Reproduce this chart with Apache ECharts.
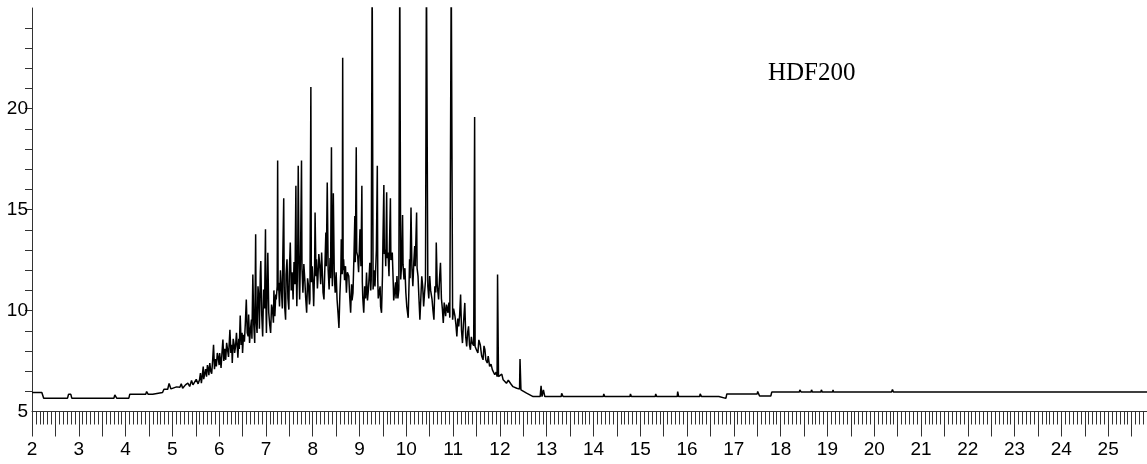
<!DOCTYPE html>
<html><head><meta charset="utf-8">
<script src="https://cdn.jsdelivr.net/npm/echarts@6/dist/echarts.min.js"></script>
<style>html,body{margin:0;padding:0;background:#fff}#chart{width:1147px;height:464px}</style>
</head><body><div id="chart"></div>
<script>
// retention time (min)
const retentionTime = [
2.00,2.21,2.25,2.76,2.78,2.83,2.85,3.75,3.77,3.81,
4.07,4.09,4.43,4.45,4.48,4.58,4.60,4.79,4.82,4.90,
4.93,4.97,5.09,5.16,5.19,5.22,5.28,5.33,5.37,5.41,
5.44,5.48,5.51,5.55,5.58,5.60,5.62,5.64,5.66,5.67,
5.69,5.71,5.73,5.75,5.77,5.78,5.80,5.82,5.84,5.86,
5.88,5.90,5.92,5.94,5.96,5.98,6.00,6.01,6.03,6.04,
6.06,6.08,6.10,6.12,6.14,6.16,6.18,6.20,6.23,6.25,
6.27,6.28,6.30,6.32,6.33,6.35,6.37,6.40,6.42,6.43,
6.45,6.47,6.49,6.50,6.52,6.54,6.56,6.58,6.60,6.62,
6.63,6.65,6.67,6.69,6.70,6.72,6.74,6.76,6.78,6.79,
6.81,6.83,6.85,6.86,6.88,6.89,6.91,6.93,6.95,6.97,
6.99,7.00,7.01,7.03,7.04,7.06,7.08,7.10,7.12,7.14,
7.16,7.17,7.19,7.21,7.22,7.24,7.25,7.26,7.27,7.29,
7.31,7.33,7.35,7.36,7.38,7.39,7.40,7.42,7.43,7.45,
7.47,7.49,7.50,7.52,7.54,7.56,7.58,7.60,7.62,7.64,
7.65,7.66,7.68,7.69,7.71,7.72,7.74,7.76,7.77,7.79,
7.81,7.83,7.85,7.87,7.89,7.91,7.93,7.94,7.96,7.97,
7.99,8.01,8.02,8.04,8.05,8.07,8.08,8.10,8.11,8.13,
8.15,8.17,8.19,8.21,8.22,8.24,8.26,8.28,8.29,8.31,
8.33,8.35,8.37,8.38,8.40,8.41,8.42,8.44,8.46,8.48,
8.50,8.52,8.54,8.56,8.58,8.60,8.61,8.63,8.64,8.65,
8.66,8.68,8.70,8.72,8.74,8.77,8.79,8.81,8.83,8.84,
8.86,8.88,8.90,8.91,8.93,8.94,8.96,8.98,9.01,9.03,
9.05,9.06,9.07,9.09,9.11,9.13,9.15,9.17,9.19,9.21,
9.22,9.24,9.25,9.27,9.29,9.31,9.33,9.35,9.36,9.38,
9.39,9.40,9.42,9.44,9.45,9.47,9.49,9.50,9.52,9.53,
9.55,9.56,9.58,9.59,9.61,9.63,9.64,9.66,9.67,9.70,
9.72,9.73,9.75,9.77,9.78,9.80,9.82,9.84,9.86,9.88,
9.90,9.92,9.93,9.95,9.97,9.99,10.01,10.04,10.06,10.07,
10.08,10.10,10.12,10.14,10.16,10.18,10.19,10.22,10.23,10.25,
10.27,10.29,10.31,10.33,10.35,10.37,10.39,10.41,10.43,10.46,
10.48,10.50,10.52,10.55,10.57,10.59,10.61,10.63,10.64,10.66,
10.69,10.71,10.73,10.75,10.77,10.79,10.81,10.84,10.86,10.89,
10.91,10.93,10.96,10.99,11.01,11.04,11.06,11.08,11.10,11.12,
11.14,11.16,11.18,11.20,11.22,11.25,11.27,11.29,11.31,11.33,
11.35,11.37,11.39,11.41,11.44,11.46,11.47,11.50,11.53,11.55,
11.58,11.61,11.64,11.66,11.68,11.70,11.73,11.75,11.78,11.81,
11.84,11.86,11.89,11.92,11.94,11.95,11.97,12.00,12.04,12.07,
12.10,12.14,12.18,12.21,12.24,12.28,12.36,12.42,12.43,12.45,
12.57,12.71,12.86,12.88,12.90,12.93,12.96,13.31,13.32,13.35,
14.21,14.22,14.24,14.78,14.79,14.81,15.32,15.33,15.35,15.79,
15.80,15.82,16.27,16.28,16.31,16.68,16.70,16.83,16.85,17.50,
17.51,17.53,17.55,17.79,17.81,18.23,18.24,18.26,18.40,18.41,
18.43,18.44,18.65,18.66,18.68,18.86,18.87,18.89,19.11,19.12,
19.13,19.45,19.46,19.47,19.66,19.67,19.68,20.37,20.39,20.41,
25.83
];
// detector signal
const signal = [
5.94,5.94,5.66,5.66,5.85,5.85,5.66,5.66,5.82,5.66,
5.66,5.86,5.86,5.99,5.86,5.86,5.94,5.94,6.10,6.10,
6.39,6.12,6.22,6.20,6.37,6.15,6.32,6.40,6.24,6.54,
6.32,6.39,6.59,6.37,6.57,6.90,6.40,6.80,7.23,6.60,
6.67,7.10,6.73,7.30,7.06,6.80,7.40,7.00,6.87,7.50,
8.31,7.10,7.60,7.23,7.90,7.66,7.30,7.90,7.50,7.16,
7.90,8.56,7.50,8.10,7.56,8.40,8.06,7.70,9.05,7.90,
8.30,7.40,8.60,8.31,7.90,8.22,8.90,7.66,8.60,8.10,
9.75,8.30,8.90,7.90,8.80,8.46,9.40,10.55,8.90,8.72,
9.80,8.39,9.10,9.55,8.60,11.79,9.30,8.39,13.78,9.60,
8.89,11.20,10.55,9.10,11.90,12.45,9.80,8.72,11.04,10.10,
14.03,10.40,8.89,11.60,12.87,9.90,9.30,8.89,10.30,10.05,
9.40,11.00,9.72,10.80,10.55,11.20,17.43,11.00,11.38,10.20,
12.00,11.04,10.10,12.60,15.56,11.20,10.20,9.55,11.80,12.54,
10.60,10.05,11.90,13.37,11.00,11.90,10.55,12.40,11.30,16.18,
11.60,10.21,13.10,17.18,11.50,10.55,12.90,17.43,12.10,10.88,
12.30,11.54,10.60,9.89,11.60,11.21,10.30,10.55,21.08,11.40,
12.20,11.00,10.21,12.10,14.86,11.70,12.54,11.10,11.54,12.80,
12.24,11.30,12.87,11.60,10.90,10.55,12.20,13.87,12.20,16.35,
12.00,11.04,12.60,11.60,18.09,12.30,11.21,15.81,11.80,10.88,
11.90,10.55,9.90,9.14,10.80,11.90,13.53,11.80,22.52,12.00,
12.54,11.50,12.20,10.88,11.90,11.71,10.70,9.89,11.30,10.50,
10.88,12.60,14.69,12.40,18.09,12.90,12.70,11.90,14.03,12.20,
16.18,11.40,10.60,9.89,11.20,10.60,11.88,10.50,11.04,11.90,
12.37,11.00,11.54,27.00,11.04,12.00,11.20,12.37,13.00,17.18,
11.50,10.60,10.55,11.20,10.20,9.89,11.70,13.40,16.22,12.80,
13.03,12.20,15.86,12.60,12.87,11.70,13.20,15.56,12.50,12.87,
11.40,10.50,10.55,11.40,10.60,11.71,10.60,11.04,27.00,11.54,
12.30,14.73,12.30,11.54,12.10,10.88,10.20,9.64,11.50,12.54,
11.60,15.11,12.10,11.21,12.40,13.20,12.20,14.86,12.10,11.71,
10.60,9.55,10.60,11.70,11.21,10.20,10.88,11.50,27.00,11.21,
10.60,11.71,11.00,10.55,10.00,9.55,11.20,10.90,13.37,11.30,
10.55,11.60,12.37,10.60,10.10,9.39,10.40,9.72,10.30,9.89,
10.40,9.65,27.00,9.55,10.10,9.72,9.30,8.72,9.60,9.22,
9.80,10.80,9.00,8.39,9.30,10.38,8.70,8.22,8.90,9.22,
8.30,8.06,8.70,8.39,8.26,19.59,8.22,8.05,7.90,8.55,
8.31,7.75,7.56,8.25,8.06,7.55,7.40,7.75,7.23,7.35,
7.06,7.15,6.82,6.95,6.73,11.79,6.73,6.73,6.85,6.57,
6.65,6.40,6.55,6.57,6.35,6.23,6.15,6.12,7.60,6.07,
5.91,5.74,5.74,6.27,5.74,6.07,5.74,5.74,5.90,5.74,
5.74,5.87,5.74,5.74,5.87,5.74,5.74,5.87,5.74,5.74,
5.99,5.74,5.74,5.87,5.74,5.74,5.65,5.65,5.87,5.87,
5.99,5.87,5.77,5.77,5.96,5.96,6.04,5.96,5.96,6.07,
6.07,5.96,5.96,6.07,5.96,5.96,6.07,5.96,5.96,6.07,
5.96,5.96,6.04,5.96,5.96,6.04,5.96,5.96,6.09,5.96,
5.96
];
const xLabelValues = [2,3,4,5,6,7,8,9,10,11,12,13,14,15,16,17,18,19,20,21,22,23,24,25];
const yLabelValues = [5,10,15,20];
const yTickValues = [6,7,8,9,10,11,12,13,14,15,16,17,18,19,20,21,22,23,24];
const sampleName = 'HDF200';

const xMin = 2, xMax = 25.83;
const xMajorTicks = [];
for (let v = 2; v <= 25.5 + 1e-9; v += 0.5) xMajorTicks.push(Math.round(v * 10) / 10);
const xMinorTicks = [];
for (let k = 0; 2 + k / 12 <= xMax + 1e-9; k++) xMinorTicks.push(2 + k / 12);

const n = Math.min(retentionTime.length, signal.length);
const seriesData = [];
for (let i = 0; i < n; i++) seriesData.push([retentionTime[i], signal[i]]);

const tickColor = '#333';
const labelFont = { fontFamily: 'Liberation Sans, Arial, sans-serif', fontSize: 19, color: '#000' };

const chart = echarts.init(document.getElementById('chart'), null, { renderer: 'canvas' });
chart.setOption({
  animation: false,
  backgroundColor: '#fff',
  title: {
    text: sampleName, left: 768, top: 61, padding: 0,
    textStyle: { fontFamily: 'Liberation Serif, Times New Roman, serif', fontSize: 25, fontWeight: 'normal', color: '#000' }
  },
  grid: { left: 32, right: 0, top: 8, bottom: 52.5, containLabel: false },
  xAxis: [
    {
      type: 'value', min: xMin, max: xMax, position: 'bottom',
      axisLine: { show: true, onZero: false, lineStyle: { color: tickColor, width: 1 } },
      axisTick: { show: true, length: 25, customValues: xMajorTicks, lineStyle: { color: tickColor, width: 1 } },
      axisLabel: Object.assign({ show: true, margin: 29, customValues: xLabelValues, formatter: v => String(v) }, labelFont),
      splitLine: { show: false }
    },
    {
      type: 'value', min: xMin, max: xMax, position: 'bottom',
      axisLine: { show: false },
      axisTick: { show: true, length: 13, customValues: xMinorTicks, lineStyle: { color: tickColor, width: 1 } },
      axisLabel: { show: false },
      splitLine: { show: false }
    }
  ],
  yAxis: {
    type: 'value', min: 5, max: 24.99,
    axisLine: { show: true, onZero: false, lineStyle: { color: tickColor, width: 1 } },
    axisTick: { show: true, length: 7, customValues: yTickValues, lineStyle: { color: tickColor, width: 1 } },
    axisLabel: Object.assign({ show: true, margin: 4, customValues: yLabelValues, formatter: v => String(v) }, labelFont),
    splitLine: { show: false }
  },
  series: [{
    type: 'line', xAxisIndex: 0, yAxisIndex: 0, data: seriesData,
    showSymbol: false, symbol: 'none', clip: true,
    lineStyle: { color: '#000', width: 1.5 }
  }]
});
</script></body></html>
